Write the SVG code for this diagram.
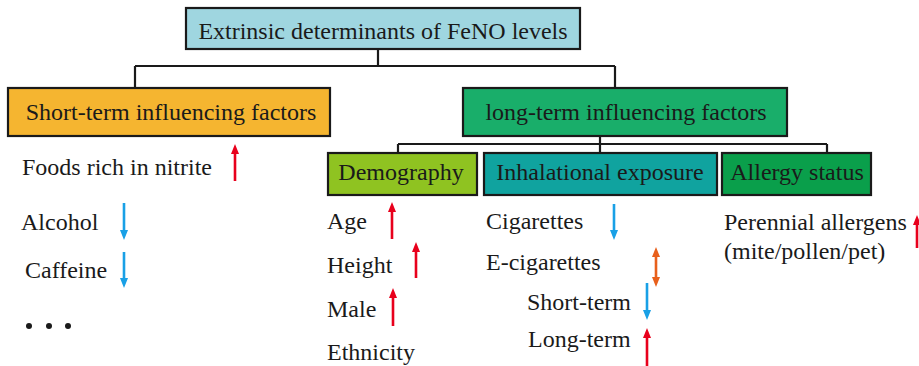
<svg xmlns="http://www.w3.org/2000/svg" width="919" height="366" viewBox="0 0 919 366">
<style>
.box{stroke:#1a1a1a;stroke-width:2.2}
.lbl{font-family:'Liberation Serif','Times New Roman',serif;font-size:24px;fill:#1a1a1a}
.mid{text-anchor:middle}
.con{fill:none;stroke:#1a1a1a;stroke-width:2.2}
.up{stroke:#e8001c;stroke-width:2.6;marker-end:url(#hr)}
.dn{stroke:#19a0e6;stroke-width:2.6;marker-end:url(#hb)}
.bi{stroke:#e8601c;stroke-width:2.6;marker-end:url(#ho);marker-start:url(#ho)}
.dot{fill:#1a1a1a}
</style>
<defs>
<marker id="hr" viewBox="0 0 10 8" refX="0" refY="4" markerWidth="10" markerHeight="8" markerUnits="userSpaceOnUse" orient="auto-start-reverse"><path d="M0,0 L10,4 L0,8 z" fill="#e8001c"/></marker>
<marker id="hb" viewBox="0 0 10 8" refX="0" refY="4" markerWidth="10" markerHeight="8" markerUnits="userSpaceOnUse" orient="auto-start-reverse"><path d="M0,0 L10,4 L0,8 z" fill="#19a0e6"/></marker>
<marker id="ho" viewBox="0 0 10 8" refX="0" refY="4" markerWidth="10" markerHeight="8" markerUnits="userSpaceOnUse" orient="auto-start-reverse"><path d="M0,0 L10,4 L0,8 z" fill="#e8601c"/></marker>
</defs>
<g id="connectors">
<path class="con" d="M378,49 V66 M135,66 H615 M135,66 V88 M615,66 V88"/>
<path class="con" d="M600,136 V153 M398,144 H827 M398,144 V153 M827,144 V153"/>
</g>
<g id="root"><rect class="box" x="186" y="8" width="394" height="41" fill="#9fd6e0"/><text class="lbl mid" font-family="Liberation Serif" x="383" y="39">Extrinsic determinants of FeNO levels</text></g>
<g id="short-term"><rect class="box" x="8" y="88" width="322" height="48" fill="#f5b530"/><text class="lbl mid" font-family="Liberation Serif" x="171" y="120">Short-term influencing factors</text></g>
<g id="long-term"><rect class="box" x="463" y="88" width="324" height="48" fill="#19ae6a"/><text class="lbl mid" font-family="Liberation Serif" x="626" y="120">long-term influencing factors</text></g>
<g id="demography"><rect class="box" x="328" y="153" width="149" height="42" fill="#8fc321"/><text class="lbl mid" font-family="Liberation Serif" x="401" y="180">Demography</text></g>
<g id="inhalational"><rect class="box" x="484" y="153" width="233" height="42" fill="#10a39f"/><text class="lbl mid" font-family="Liberation Serif" x="600" y="180">Inhalational exposure</text></g>
<g id="allergy"><rect class="box" x="722" y="153" width="149" height="42" fill="#0a9f4b"/><text class="lbl mid" font-family="Liberation Serif" x="797" y="180">Allergy status</text></g>
<g id="short-items">
<text class="lbl" font-family="Liberation Serif" x="22" y="175">Foods rich in nitrite</text>
<line class="up" x1="235" y1="181" x2="235" y2="154"/>
<text class="lbl" font-family="Liberation Serif" x="21" y="230">Alcohol</text>
<line class="dn" x1="124" y1="203" x2="124" y2="230"/>
<text class="lbl" font-family="Liberation Serif" x="25" y="278">Caffeine</text>
<line class="dn" x1="124" y1="252" x2="124" y2="278"/>
<circle class="dot" cx="29" cy="326" r="3"/><circle class="dot" cx="49" cy="326" r="3"/><circle class="dot" cx="68" cy="326" r="3"/>
</g>
<g id="demo-items">
<text class="lbl" font-family="Liberation Serif" x="327" y="229">Age</text>
<line class="up" x1="392" y1="239" x2="392" y2="212"/>
<text class="lbl" font-family="Liberation Serif" x="327" y="273">Height</text>
<line class="up" x1="416" y1="278" x2="416" y2="252"/>
<text class="lbl" font-family="Liberation Serif" x="327" y="317">Male</text>
<line class="up" x1="393" y1="326" x2="393" y2="298"/>
<text class="lbl" font-family="Liberation Serif" x="327" y="360">Ethnicity</text>
</g>
<g id="inhal-items">
<text class="lbl" font-family="Liberation Serif" x="486" y="229">Cigarettes</text>
<line class="dn" x1="614" y1="204" x2="614" y2="230"/>
<text class="lbl" font-family="Liberation Serif" x="486" y="270">E-cigarettes</text>
<line class="bi" x1="656" y1="257" x2="656" y2="277"/>
<text class="lbl" font-family="Liberation Serif" x="527" y="310">Short-term</text>
<line class="dn" x1="647" y1="283" x2="647" y2="310"/>
<text class="lbl" font-family="Liberation Serif" x="528" y="347">Long-term</text>
<line class="up" x1="647" y1="366" x2="647" y2="338"/>
</g>
<g id="allergy-items">
<text class="lbl" font-family="Liberation Serif" x="724" y="230">Perennial allergens</text>
<text class="lbl" font-family="Liberation Serif" x="724" y="259">(mite/pollen/pet)</text>
<line class="up" x1="917" y1="248" x2="917" y2="225"/>
</g>
</svg>
